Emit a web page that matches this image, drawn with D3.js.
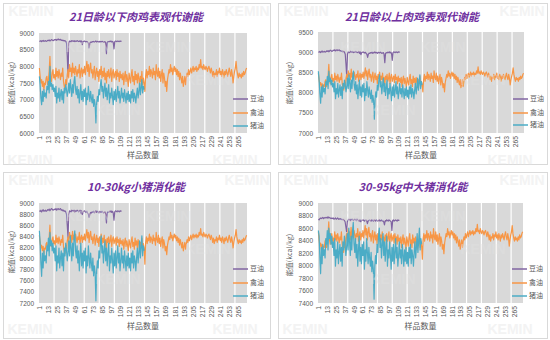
<!DOCTYPE html>
<html><head><meta charset="utf-8">
<script src="https://cdn.jsdelivr.net/npm/d3@7"></script>
<style>body{margin:0;background:#fff}svg{display:block}</style>
</head><body><svg id="c" width="550" height="340"></svg>
<script>
// ---------- data ----------
const categories = d3.range(1, 277);
const xTickLabels = [1,13,25,37,49,61,73,85,97,109,121,133,145,157,169,181,193,205,217,229,241,253,265];
const seriesNames = ["豆油","禽油","猪油"];
const titles = ["21日龄以下肉鸡表观代谢能","21日龄以上肉鸡表观代谢能","10-30kg小猪消化能","30-95kg中大猪消化能"];
const yTitle = "能值(kcal/kg)";
const xTitle = "样品数量";
const watermarkText = "KEMIN";
const yTicks1 = [6000,6500,7000,7500,8000,8500,9000];
const yTicks2 = [7000,7500,8000,8500,9000,9500];
const yTicks3 = [7200,7400,7600,7800,8000,8200,8400,8600,8800,9000];
const yTicks4 = [7400,7600,7800,8000,8200,8400,8600,8800,9000];

const soy1 = [8760,8750,8770,8740,8760,8780,8750,8760,8770,8750,
8760,8780,8770,8790,8760,8780,8800,8790,8770,8780,
8800,8790,8810,8780,8800,8820,8790,8800,8810,8780,
8790,8770,8780,8760,8770,8750,8700,8300,7700,8700,
8760,8750,8740,8770,8760,8750,8770,8740,8760,8750,
8770,8760,8740,8750,8770,8720,8760,8650,8740,8750,
8760,8740,8730,8750,8720,8700,8550,8700,8730,8720,
8740,8730,8750,8720,8740,8760,8730,8750,8740,8720,
8750,8740,8730,8750,8740,8720,8730,8740,8700,8380,
8720,8740,8730,8750,8740,8760,8730,8750,8720,8520,
8740,8760,8750,8740,8760,8750,8740,8760,8750,8760];
const poultry1 = [7950,7700,7500,7600,7400,7550,7300,7500,7450,7650,
7700,7450,7600,7850,8300,7700,7550,7800,7900,7650,
7750,7600,7950,7700,7850,7650,7900,7750,7600,7800,
7700,7950,7550,7400,7300,7600,7450,7750,7900,7650,
8050,7850,7950,7700,8100,7800,7950,7750,8000,7850,
7700,7900,7800,8050,7650,7850,7950,7700,7900,7800,
8000,7750,7950,8150,7850,8050,7700,7950,8100,7800,
7900,7650,7850,8000,7600,7800,7950,7700,7850,7550,
7900,7750,8000,7650,7850,7700,7950,7600,7800,7500,
7850,7700,7900,7650,7750,7950,7550,7800,7900,7650,
7750,7850,7600,7900,7700,7800,7550,7850,7650,7750,
7600,7800,7450,7700,7850,7550,7750,7600,7400,7800,
7650,7500,7750,7900,7550,7700,7450,7850,7600,7750,
7500,7800,7650,7400,7700,7550,7850,7450,7650,7500,
7250,7700,7900,7650,7850,7750,8000,7700,7900,7800,
7650,7950,7750,7850,7600,8050,7800,7700,7950,7650,
7850,7550,7750,7900,7500,7800,7650,7400,7550,7250,
7600,7750,7900,7800,8050,7850,7950,7750,7900,8000,
7850,7950,7750,7900,7700,7850,7600,7800,7650,7500,
7700,7400,7550,7700,7450,7650,7800,7700,7900,7750,
7850,7950,7800,7900,8000,7850,7950,7900,8000,7850,
7950,7900,8050,7950,8200,7950,8000,7900,8050,7950,
7900,8000,7950,7850,7950,8000,7900,7800,7950,7850,
7700,7850,7650,7800,7750,7900,7700,7850,7800,7950,
7750,7850,7700,7900,7800,7650,7850,7750,7900,7800,
7700,7850,7950,7800,7700,7900,7750,7500,7700,7850,
7950,8150,7900,7750,7650,7800,7700,7750,7650,7800,
7700,7850,7750,7800,7900,7950];
const lard1 = [7700,7450,7050,6850,7250,6950,7300,7100,7200,7050,
7400,7300,7550,7200,8000,7400,7500,7300,7450,7250,
7350,7100,7400,6900,7200,7050,7350,6950,7150,7300,
7000,7250,6900,7350,7200,7450,7300,7100,7250,7500,
7200,7600,7350,7100,7450,7200,7550,7700,7300,7150,
7400,7050,7300,6900,7200,7450,7000,7250,6950,7300,
7100,7350,6850,7200,7000,7400,7150,6950,7250,7050,
6900,7150,6800,7000,6850,6300,6900,7100,6950,7300,
7150,7450,7600,7250,7400,7050,7300,7500,7100,7350,
7000,7250,7450,6900,7200,7050,7350,7100,6850,7250,
7000,7300,6950,7150,7400,7050,7250,6900,7100,7350,
7050,7200,6950,7300,7100,6900,7200,7000,7250,6950,
7150,6900,7250,7050,7300,6950,7200,7100,6900,7150,
7350,7050,7250,7500,7150,7350,7600,7200,7400,7300];

const soy2 = [9010,9000,9020,8990,9010,9030,9000,9010,9020,9000,
9010,9030,9020,9040,9010,9030,9050,9040,9020,9030,
9050,9040,9060,9030,9050,9060,9040,9050,9060,9030,
9040,9020,9030,9010,9020,9000,8950,8700,8400,8950,
9010,9000,8990,9020,9010,9000,9020,8990,9010,9000,
9020,9010,8990,9000,9020,8970,9010,8940,8990,9000,
9010,8990,8980,9000,8970,8950,8870,8950,8980,8970,
8990,8980,9000,8970,8990,9010,8980,9000,8990,8970,
9000,8990,8980,9000,8990,8970,8980,8990,8950,8740,
8970,8990,8980,9000,8990,9010,8980,9000,8970,8800,
8990,9010,9000,8990,9010,9000,8990,9010,9000,9010];
const poultry2 = [8480,8320,8190,8250,8120,8220,8060,8190,8150,8280,
8320,8150,8250,8410,8700,8320,8220,8380,8450,8280,
8350,8250,8480,8320,8410,8280,8450,8350,8250,8380,
8320,8480,8220,8120,8060,8250,8150,8350,8450,8280,
8540,8410,8480,8320,8580,8380,8480,8350,8510,8410,
8320,8450,8380,8540,8280,8410,8480,8320,8450,8380,
8510,8350,8480,8610,8410,8540,8320,8480,8580,8380,
8450,8280,8410,8510,8250,8380,8480,8320,8410,8220,
8450,8350,8510,8280,8410,8320,8480,8250,8380,8190,
8410,8320,8450,8280,8350,8480,8220,8380,8450,8280,
8350,8410,8250,8450,8320,8380,8220,8410,8280,8350,
8250,8380,8150,8320,8410,8220,8350,8250,8120,8380,
8280,8190,8350,8450,8220,8320,8150,8410,8250,8350,
8190,8380,8280,8120,8320,8220,8410,8150,8280,8190,
8020,8320,8450,8280,8410,8350,8510,8320,8450,8380,
8280,8480,8350,8410,8250,8540,8380,8320,8480,8280,
8410,8220,8350,8450,8190,8380,8280,8120,8220,8020,
8250,8350,8450,8380,8540,8410,8480,8350,8450,8510,
8410,8480,8350,8450,8320,8410,8250,8380,8280,8190,
8320,8120,8220,8320,8150,8280,8380,8320,8450,8350,
8410,8480,8380,8450,8510,8410,8480,8450,8510,8410,
8480,8450,8540,8480,8640,8480,8510,8450,8540,8480,
8450,8510,8480,8410,8480,8510,8450,8380,8480,8410,
8320,8410,8280,8380,8350,8450,8320,8410,8380,8480,
8350,8410,8320,8450,8380,8280,8410,8350,8450,8380,
8320,8410,8480,8380,8320,8450,8350,8190,8320,8410,
8480,8610,8450,8350,8280,8380,8320,8350,8280,8380,
8320,8410,8350,8380,8450,8480];
const lard2 = [8530,8310,7970,7740,8140,7890,8190,8020,8100,7970,
8270,8190,8400,8100,8530,8270,8360,8190,8310,8140,
8230,8020,8270,7850,8100,7970,8230,7890,8060,8190,
7930,8140,7850,8230,8100,8310,8190,8020,8140,8360,
8100,8440,8230,8020,8310,8100,8400,8530,8190,8060,
8270,7970,8190,7850,8100,8310,7930,8140,7890,8190,
8020,8230,7800,8100,7930,8270,8060,7890,8140,7970,
7850,8060,7760,7930,7800,7340,7850,8020,7890,8190,
8060,8310,8440,8140,8270,7970,8190,8360,8020,8230,
7930,8140,8310,7850,8100,7970,8230,8020,7800,8140,
7930,8190,7890,8060,8270,7970,8140,7850,8020,8230,
7970,8100,7890,8190,8020,7850,8100,7930,8140,7890,
8060,7850,8140,7970,8190,7890,8100,8020,7850,8060,
8230,7970,8140,8360,8060,8230,8440,8100,8270,8190];

const soy3 = [8860,8850,8870,8840,8860,8880,8850,8860,8870,8850,
8860,8880,8870,8890,8860,8880,8900,8890,8870,8880,
8890,8880,8900,8870,8890,8900,8880,8890,8900,8870,
8880,8860,8870,8850,8860,8840,8800,8600,8380,8800,
8860,8850,8840,8870,8860,8850,8870,8840,8860,8850,
8870,8860,8840,8850,8870,8820,8860,8790,8840,8850,
8860,8840,8830,8850,8820,8800,8740,8800,8830,8820,
8840,8830,8850,8820,8840,8860,8830,8850,8840,8820,
8850,8840,8830,8850,8840,8820,8830,8840,8800,8640,
8820,8840,8830,8850,8840,8860,8830,8850,8820,8690,
8840,8860,8850,8840,8860,8850,8840,8860,8850,8860];
const poultry3 = [8420,8290,8190,8240,8140,8220,8090,8190,8170,8270,
8290,8170,8240,8370,8600,8290,8220,8340,8390,8270,
8320,8240,8420,8290,8370,8270,8390,8320,8240,8340,
8290,8420,8220,8140,8090,8240,8170,8320,8390,8270,
8470,8370,8420,8290,8490,8340,8420,8320,8440,8370,
8290,8390,8340,8470,8270,8370,8420,8290,8390,8340,
8440,8320,8420,8520,8370,8470,8290,8420,8490,8340,
8390,8270,8370,8440,8240,8340,8420,8290,8370,8220,
8390,8320,8440,8270,8370,8290,8420,8240,8340,8190,
8370,8290,8390,8270,8320,8420,8220,8340,8390,8270,
8320,8370,8240,8390,8290,8340,8220,8370,8270,8320,
8240,8340,8170,8290,8370,8220,8320,8240,8140,8340,
8270,8190,8320,8390,8220,8290,8170,8370,8240,8320,
8190,8340,8270,8140,8290,8220,8370,8170,8270,8190,
7900,8290,8390,8270,8370,8320,8440,8290,8390,8340,
8270,8420,8320,8370,8240,8470,8340,8290,8420,8270,
8370,8220,8320,8390,8190,8340,8270,8140,8220,8070,
8240,8320,8390,8340,8470,8370,8420,8320,8390,8440,
8370,8420,8320,8390,8290,8370,8240,8340,8270,8190,
8290,8140,8220,8290,8170,8270,8340,8290,8390,8320,
8370,8420,8340,8390,8440,8370,8420,8390,8440,8370,
8420,8390,8470,8420,8540,8420,8440,8390,8470,8420,
8390,8440,8420,8370,8420,8440,8390,8340,8420,8370,
8290,8370,8270,8340,8320,8390,8290,8370,8340,8420,
8320,8370,8290,8390,8340,8270,8370,8320,8390,8340,
8290,8370,8420,8340,8290,8390,8320,8190,8290,8370,
8420,8520,8390,8320,8270,8340,8290,8320,8270,8340,
8290,8370,8320,8340,8390,8420];
const lard3 = [8500,8280,7920,7680,8100,7830,8140,7960,8050,7920,
8230,8140,8370,8050,8470,8230,8320,8140,8280,8100,
8190,7960,8230,7780,8050,7920,8190,7830,8010,8140,
7870,8100,7780,8190,8050,8280,8140,7960,8100,8320,
8050,8410,8190,7960,8280,8050,8370,8500,8140,8010,
8230,7920,8140,7780,8050,8280,7870,8100,7830,8140,
7960,8190,7740,8050,7870,8230,8010,7830,8100,7920,
7780,8010,7690,7870,7740,7240,7780,7960,7830,8140,
8010,8280,8410,8100,8230,7920,8140,8320,7960,8190,
7870,8100,8280,7780,8050,7920,8190,7960,7740,8100,
7870,8140,7830,8010,8230,7920,8100,7780,7960,8190,
7920,8050,7830,8140,7960,7780,8050,7870,8100,7830,
8010,7780,8100,7920,8140,7830,8050,7960,7780,8010,
8190,7920,8100,8320,8010,8190,8410,8050,8230,8140];

const soy4 = [8740,8730,8750,8760,8750,8760,8770,8750,8760,8770,
8760,8770,8760,8780,8760,8770,8760,8750,8760,8750,
8760,8740,8750,8760,8740,8750,8760,8740,8750,8740,
8750,8740,8730,8740,8730,8720,8700,8620,8540,8700,
8730,8740,8730,8720,8740,8730,8740,8720,8730,8740,
8730,8720,8740,8730,8720,8710,8730,8700,8720,8730,
8720,8730,8710,8720,8730,8720,8670,8710,8720,8730,
8720,8710,8730,8720,8710,8730,8720,8710,8730,8720,
8710,8720,8730,8710,8720,8730,8710,8720,8700,8650,
8720,8710,8730,8720,8710,8730,8720,8710,8700,8560,
8720,8730,8710,8720,8730,8720,8710,8730,8720,8730];
const poultry4 = [8540,8410,8310,8360,8260,8340,8210,8310,8290,8390,
8410,8290,8360,8490,8700,8410,8340,8460,8510,8390,
8440,8360,8540,8410,8490,8390,8510,8440,8360,8460,
8410,8540,8340,8260,8210,8360,8290,8440,8510,8390,
8590,8490,8540,8410,8610,8460,8540,8440,8560,8490,
8410,8510,8460,8590,8390,8490,8540,8410,8510,8460,
8560,8440,8540,8640,8490,8590,8410,8540,8610,8460,
8510,8390,8490,8560,8360,8460,8540,8410,8490,8340,
8510,8440,8560,8390,8490,8410,8540,8360,8460,8310,
8490,8410,8510,8390,8440,8540,8340,8460,8510,8390,
8440,8490,8360,8510,8410,8460,8340,8490,8390,8440,
8360,8460,8290,8410,8490,8340,8440,8360,8260,8460,
8390,8310,8440,8510,8340,8410,8290,8490,8360,8440,
8310,8460,8390,8260,8410,8340,8490,8290,8390,8310,
8100,8410,8510,8390,8490,8440,8560,8410,8510,8460,
8390,8540,8440,8490,8360,8590,8460,8410,8540,8390,
8490,8340,8440,8510,8310,8460,8390,8260,8340,8190,
8360,8440,8510,8460,8590,8490,8540,8440,8510,8560,
8490,8540,8440,8510,8410,8490,8360,8460,8390,8310,
8410,8260,8340,8410,8290,8390,8460,8410,8510,8440,
8490,8540,8460,8510,8560,8490,8540,8510,8560,8490,
8540,8510,8590,8540,8660,8540,8560,8510,8590,8540,
8510,8560,8540,8490,8540,8560,8510,8460,8540,8490,
8410,8490,8390,8460,8440,8510,8410,8490,8460,8540,
8440,8490,8410,8510,8460,8390,8490,8440,8510,8460,
8410,8490,8540,8460,8410,8510,8440,8310,8410,8490,
8540,8640,8510,8440,8390,8460,8410,8440,8390,8460,
8410,8490,8440,8460,8510,8540];
const lard4 = [8560,8470,8120,7870,8290,8030,8340,8160,8250,8120,
8430,8340,8560,8250,8600,8430,8510,8340,8470,8290,
8380,8160,8430,7990,8250,8120,8380,8030,8210,8340,
8070,8290,7990,8380,8250,8470,8340,8160,8290,8510,
8250,8600,8380,8160,8470,8250,8560,8690,8340,8210,
8430,8120,8340,7990,8250,8470,8070,8290,8030,8340,
8160,8380,7940,8250,8070,8430,8210,8030,8290,8120,
7990,8210,7900,8070,7940,7460,7990,8160,8030,8340,
8210,8470,8600,8290,8430,8120,8340,8510,8160,8380,
8070,8290,8470,7990,8250,8120,8380,8160,7940,8290,
8070,8340,8030,8210,8430,8120,8290,7990,8160,8380,
8120,8250,8030,8340,8160,7990,8250,8070,8290,8030,
8210,7990,8290,8120,8340,8030,8250,8160,7990,8210,
8380,8120,8290,8510,8210,8380,8600,8250,8430,8340];

// ---------- layout ----------
const colors = ["#8064A2", "#F79646", "#4BACC6"];
const panels = [
  {title: titles[0], series: [soy1, poultry1, lard1], yTicks: yTicks1,
   box: [3,3,270,164], plot: {l:39,t:33,r:247,b:133}, titleX: 136, titleY: 21,
   yLabX: 12, yLabY: 83, xTitleY: 158, legX: 233, legY: [99,113,126]},
  {title: titles[1], series: [soy2, poultry2, lard2], yTicks: yTicks2,
   box: [278,3,547,164], plot: {l:318,t:32,r:524,b:133}, titleX: 412, titleY: 21,
   yLabX: 290, yLabY: 83, xTitleY: 158, legX: 513, legY: [99,113,125]},
  {title: titles[2], series: [soy3, poultry3, lard3], yTicks: yTicks3,
   box: [3,172,270,338], plot: {l:39,t:203,r:247,b:303}, titleX: 136, titleY: 191,
   yLabX: 12, yLabY: 252, xTitleY: 329, legX: 233, legY: [269,283,296]},
  {title: titles[3], series: [soy4, poultry4, lard4], yTicks: yTicks4,
   box: [278,172,547,338], plot: {l:318,t:203,r:523,b:303}, titleX: 413, titleY: 191,
   yLabX: 290, yLabY: 255, xTitleY: 329, legX: 512, legY: [269,283,296]}
];
// watermark spots relative to each panel box (kept clear of the chart texts)
const wmSpots = [[28,13],[244,13],[85,49],[165,49],[205,82],[115,112],[27,162],[232,162]];

const svg = d3.select("#c");
svg.append("rect").attr("width",550).attr("height",340).attr("fill","#fff");
const numFont = "'Liberation Sans', Arial, sans-serif";
const cjkFont = "'Noto Sans CJK SC', sans-serif";

panels.forEach(p => {
  const g = svg.append("g");
  g.append("rect").attr("x", p.box[0]+0.5).attr("y", p.box[1]+0.5)
    .attr("width", p.box[2]-p.box[0]).attr("height", p.box[3]-p.box[1])
    .attr("fill", "#fff").attr("stroke", "#d9d9d9").attr("stroke-width", 1);

  const x = d3.scaleBand().domain(categories.map(String)).range([p.plot.l, p.plot.r]).padding(0);
  const y = d3.scaleLinear().domain([p.yTicks[0], p.yTicks[p.yTicks.length-1]]).range([p.plot.b, p.plot.t]);

  g.append("rect").attr("x", p.plot.l).attr("y", p.plot.t)
    .attr("width", p.plot.r - p.plot.l).attr("height", p.plot.b - p.plot.t).attr("fill", "#d9d9d9");

  // vertical gridlines every 20 categories
  const gridCats = categories.filter(c => c > 1 && (c - 1) % 20 === 0);
  g.selectAll(".grid").data(gridCats).enter().append("line")
    .attr("x1", c => x(String(c))).attr("x2", c => x(String(c)))
    .attr("y1", p.plot.t).attr("y2", p.plot.b)
    .attr("stroke", "#fff").attr("stroke-width", 1.2);

  // y axis
  const ya = g.append("g").attr("transform", `translate(${p.plot.l},0)`)
    .call(d3.axisLeft(y).tickValues(p.yTicks).tickSize(0).tickPadding(5).tickFormat(d3.format("d")));
  ya.select(".domain").remove();
  ya.selectAll("text").attr("font-size", "6.5px").attr("fill", "#595959").attr("font-family", numFont);

  // x axis
  const xa = g.append("g").attr("transform", `translate(0,${p.plot.b})`)
    .call(d3.axisBottom(x).tickValues(xTickLabels.map(String)).tickSize(0));
  xa.select(".domain").remove();
  xa.selectAll("text").attr("transform", "rotate(-90)").attr("x", -3).attr("y", 0)
    .attr("dy", "0.35em").attr("text-anchor", "end")
    .attr("font-size", "6.7px").attr("fill", "#595959").attr("font-family", numFont);

  // lines
  p.series.forEach((vals, si) => {
    const line = d3.line().x((d, i) => x(String(categories[i])) + x.bandwidth()/2).y(d => y(d));
    g.append("path").datum(vals).attr("d", line).attr("fill", "none")
      .attr("stroke", colors[si]).attr("stroke-width", 1.2).attr("stroke-linejoin", "round");
  });

  // legend
  seriesNames.forEach((n, i) => {
    g.append("line").attr("x1", p.legX).attr("x2", p.legX + 15)
      .attr("y1", p.legY[i]).attr("y2", p.legY[i]).attr("stroke", colors[i]).attr("stroke-width", 1.5);
    g.append("text").attr("x", p.legX + 17).attr("y", p.legY[i]).attr("dy", "0.35em")
      .attr("font-size", "7px").attr("fill", "#595959").attr("font-family", cjkFont).text(n);
  });

  // titles
  g.append("text").attr("x", p.titleX).attr("y", p.titleY).attr("text-anchor", "middle")
    .attr("font-size", "11px").attr("font-weight", "bold").attr("font-style", "italic")
    .attr("fill", "#7030A0").attr("font-family", cjkFont).text(p.title);
  g.append("text").attr("transform", `translate(${p.yLabX},${p.yLabY}) rotate(-90)`)
    .attr("text-anchor", "middle").attr("dy", "0.35em")
    .attr("font-size", "7px").attr("fill", "#595959").attr("font-family", cjkFont).text(yTitle);
  g.append("text").attr("x", (p.plot.l + p.plot.r)/2).attr("y", p.xTitleY).attr("text-anchor", "middle")
    .attr("font-size", "8px").attr("fill", "#595959").attr("font-family", cjkFont).text(xTitle);

  // faint watermark
  wmSpots.forEach(([dx, dy]) => {
    g.append("text").attr("x", p.box[0] + dx).attr("y", p.box[1] + dy)
      .attr("text-anchor", "middle").attr("font-size", "14px").attr("font-weight", "bold")
      .attr("font-family", numFont).attr("fill", "#e2e2e2").attr("opacity", 0.4)
      .attr("pointer-events", "none").text(watermarkText);
  });
});
</script>
</body></html>
